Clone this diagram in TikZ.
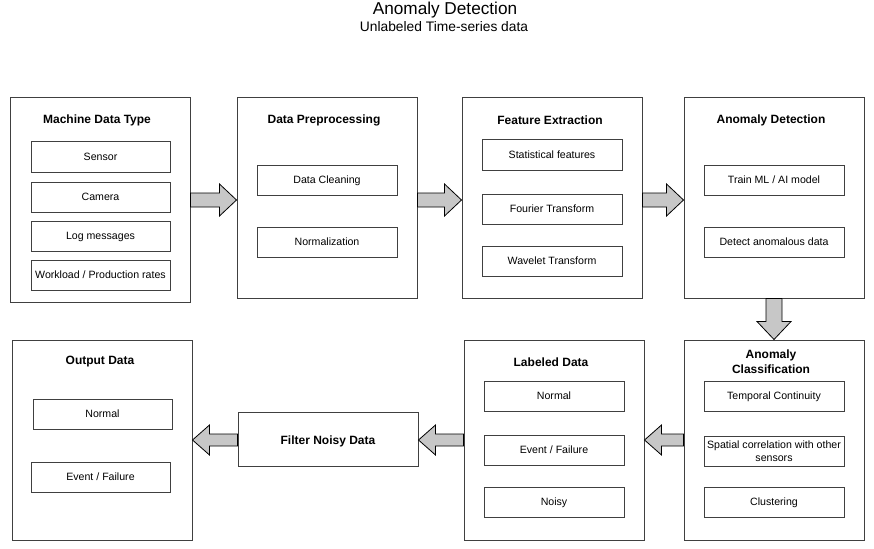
\documentclass[tikz,border=0pt]{standalone}
\usepackage{fontspec}
\setmainfont{Liberation Sans}
\usetikzlibrary{calc}
\tikzset{
  outer/.style={draw=black!75, line width=1pt, fill=white, minimum width=180pt, inner sep=0pt},
  ibox/.style={draw=black!75, line width=1pt, fill=white, minimum width=140pt, minimum height=30pt, inner sep=0pt, font=\fontsize{10.6}{12.8}\selectfont, align=center},
  inner/.style={ibox, text height=7.6pt, text depth=0pt},
  ttl/.style={font=\bfseries\fontsize{12}{14}\selectfont, align=center},
  barrow/.style={draw=black, line width=0.8pt, fill=black!22, line join=miter},
}
\newcommand{\rarrow}[2]{\draw[barrow] let \p1=(#1), \p2=(#2) in
  (\x1,\y1+7pt) -- (\x2-17pt,\y1+7pt) -- (\x2-17pt,\y1+16pt) -- (\x2,\y1) -- (\x2-17pt,\y1-16pt) -- (\x2-17pt,\y1-7pt) -- (\x1,\y1-7pt) -- cycle;}
\newcommand{\larrow}[2]{\draw[barrow] let \p1=(#1), \p2=(#2) in
  (\x1,\y1+6pt) -- (\x2+17pt,\y1+6pt) -- (\x2+17pt,\y1+15pt) -- (\x2,\y1) -- (\x2+17pt,\y1-15pt) -- (\x2+17pt,\y1-6pt) -- (\x1,\y1-6pt) -- cycle;}
\newcommand{\darrow}[2]{\draw[barrow] let \p1=(#1), \p2=(#2) in
  (\x1-8pt,\y1) -- (\x1-8pt,\y2+18pt) -- (\x1-17pt,\y2+18pt) -- (\x1,\y2) -- (\x1+17pt,\y2+18pt) -- (\x1+8pt,\y2+18pt) -- (\x1+8pt,\y1) -- cycle;}
\begin{document}
\begin{tikzpicture}[x=1pt,y=-1pt]
\useasboundingbox (0,0) rectangle (874,548);
% titles
\node[font=\fontsize{17.2}{19}\selectfont] (t1) at (445,10) {Anomaly Detection};
\node[font=\fontsize{13.8}{16}\selectfont] (t2) at (444,27) {Unlabeled Time-series data};

% outer boxes
\node[outer, minimum height=204pt] (b1) at (100,200) {};
\node[outer, minimum height=200pt] (b2) at (327,198) {};
\node[outer, minimum height=200pt] (b3) at (552,198) {};
\node[outer, minimum height=200pt] (b4) at (774,198) {};
\node[outer, minimum height=200pt] (b5) at (774,440) {};
\node[outer, minimum height=200pt] (b6) at (554,440) {};
\node[outer, minimum height=54pt] (b7) at (328,439) {};
\node[outer, minimum height=200pt] (b8) at (102,440) {};

% box 1
\node[ttl] (h1) at (97,120) {Machine Data Type};
\node[inner, minimum width=139pt] (s1) at (100.5,157) {Sensor};
\node[inner, minimum width=139pt] (s2) at (100.5,197) {Camera};
\node[inner, minimum width=139pt] (s3) at (100.5,236) {Log messages};
\node[inner, minimum width=139pt] (s4) at (100.5,275) {Workload / Production rates};

% box 2
\node[ttl] (h2) at (324,120) {Data Preprocessing};
\node[inner] (p1) at (327,180) {Data Cleaning};
\node[inner] (p2) at (327,242) {Normalization};

% box 3
\node[ttl] (h3) at (550,120) {Feature Extraction};
\node[inner] (f1) at (552,155) {Statistical features};
\node[inner] (f2) at (552,209) {Fourier Transform};
\node[inner] (f3) at (552,261) {Wavelet Transform};

% box 4
\node[ttl] (h4) at (771,120) {Anomaly Detection};
\node[inner] (a1) at (774,180) {Train ML / AI model};
\node[inner] (a2) at (774,242) {Detect anomalous data};

% box 5
\node[ttl, font=\bfseries\fontsize{12}{14.5}\selectfont] (h5) at (771,361.5) {Anomaly\\Classification};
\node[inner] (c1) at (774,396) {Temporal Continuity};
\node[ibox] (c2) at (774,451) {Spatial correlation with other\\sensors};
\node[inner] (c3) at (774,502) {Clustering};

% box 6
\node[ttl] (h6) at (551,362) {Labeled Data};
\node[inner] (l1) at (554,396) {Normal};
\node[inner] (l2) at (554,450) {Event / Failure};
\node[inner] (l3) at (554,502) {Noisy};

% filter
\node[ttl] (h7) at (328,441) {Filter Noisy Data};

% output
\node[ttl] (h8) at (100,362) {Output Data};
\node[inner, minimum width=139pt] (o1) at (102.5,414) {Normal};
\node[inner, minimum width=139pt] (o2) at (100.5,477) {Event / Failure};

% block arrows
\rarrow{b1.east}{b2.west |- b1.east}
\rarrow{b2.east |- b1.east}{b3.west |- b1.east}
\rarrow{b3.east |- b1.east}{b4.west |- b1.east}
\darrow{b4.south}{b5.north}
\larrow{b5.west}{b6.east |- b5.west}
\larrow{b6.west}{b7.east |- b6.west}
\larrow{b7.west |- b8.east}{b8.east}
\end{tikzpicture}
\end{document}
